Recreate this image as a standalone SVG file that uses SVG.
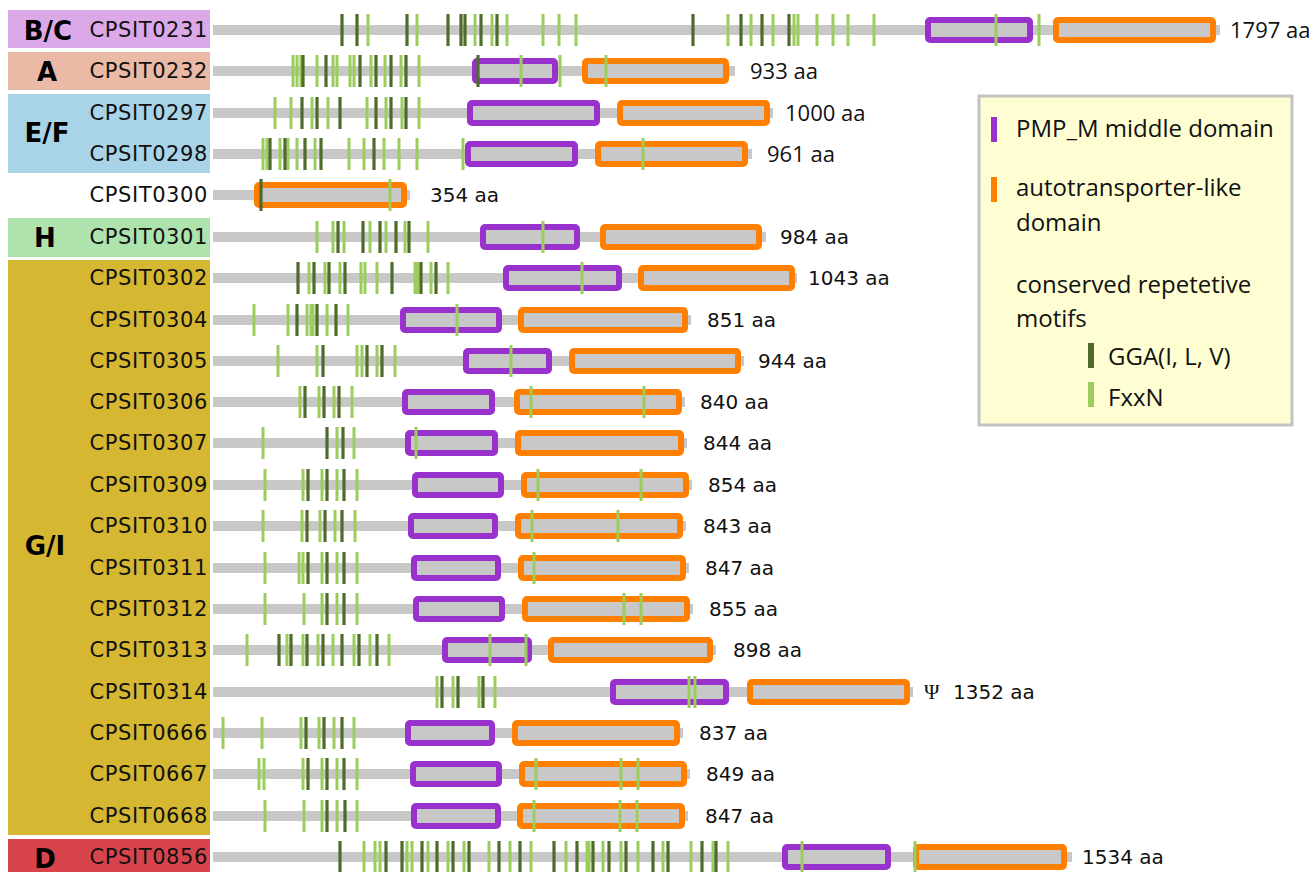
<svg xmlns="http://www.w3.org/2000/svg" width="1314" height="872" viewBox="0 0 1314 872">
<style>
.bb{fill:#c8c8c8}
.pm{fill:#c8c8c8;stroke:#9932cc;stroke-width:6}
.at{fill:#c8c8c8;stroke:#ff8000;stroke-width:6}
.l{stroke:#9acd5c;stroke-width:3;fill:none}
.d{stroke:#4e6b2c;stroke-width:3.2;fill:none}
.nm{font-family:"DejaVu Sans",sans-serif;font-size:21px;letter-spacing:0.6px;text-anchor:end;fill:#111}
.aa{font-family:"DejaVu Sans",sans-serif;font-size:20px;fill:#111}
.aa2{font-family:"Open Sans",sans-serif;font-size:22px;fill:#111}
.grp{font-family:"DejaVu Sans",sans-serif;font-weight:bold;font-size:26px;text-anchor:middle;fill:#000}
.lg{font-family:"Open Sans",sans-serif;font-size:24px;fill:#111}
</style>
<rect width="1314" height="872" fill="#fff"/>
<g id="groups">
<rect x="8" y="10" width="202" height="38" fill="#dca9e8"/>
<rect x="8" y="52" width="202" height="38" fill="#eabaa6"/>
<rect x="8" y="94" width="202" height="79" fill="#a9d4e8"/>
<rect x="8" y="218" width="202" height="39" fill="#aee3ae"/>
<rect x="8" y="260" width="202" height="575" fill="#d5b732"/>
<rect x="8" y="839" width="202" height="40" fill="#d8444c"/>
<text class="grp" x="48" y="40">B/C</text>
<text class="grp" x="47" y="81">A</text>
<text class="grp" x="47" y="142">E/F</text>
<text class="grp" x="45" y="247">H</text>
<text class="grp" x="45" y="555">G/I</text>
<text class="grp" x="45" y="868">D</text>
</g>
<g id="row-CPSIT0231">
<text class="nm" x="208" y="37">CPSIT0231</text>
<rect class="bb" x="213" y="25" width="1007" height="10"/>
<rect class="pm" x="928" y="20" width="102" height="20" rx="2"/>
<rect class="at" x="1056" y="20" width="157" height="20" rx="2"/>
<path class="l" d="M368 14v32M417 14v32M475 14v32M492 14v32M507 14v32M543 14v32M559 14v32M576 14v32M728 14v32M751 14v32M773 14v32M794 14v32M798 14v32M817 14v32M833 14v32M848 14v32M874 14v32M996 14v32M1039 14v32"/>
<path class="d" d="M342 14v32M357 14v32M407 14v32M448 14v32M461 14v32M465 14v32M481 14v32M497 14v32M693 14v32M741 14v32M762 14v32M789 14v32"/>
<text class="aa2" x="1230" y="38">1797 aa</text>
</g>
<g id="row-CPSIT0232">
<text class="nm" x="208" y="78">CPSIT0232</text>
<rect class="bb" x="213" y="66" width="522" height="10"/>
<rect class="pm" x="475" y="61" width="80" height="20" rx="2"/>
<rect class="at" x="585" y="61" width="141" height="20" rx="2"/>
<path class="l" d="M293 55v32M297 55v32M301 55v32M317 55v32M333 55v32M337 55v32M350 55v32M354 55v32M371 55v32M385 55v32M401 55v32M419 55v32M521 55v32M560 55v32M606 55v32"/>
<path class="d" d="M303 55v32M326 55v32M360 55v32M376 55v32M391 55v32M406 55v32M478 55v32"/>
<text class="aa2" x="750" y="79">933 aa</text>
</g>
<g id="row-CPSIT0297">
<text class="nm" x="208" y="120">CPSIT0297</text>
<rect class="bb" x="213" y="108" width="560" height="10"/>
<rect class="pm" x="470" y="103" width="127" height="20" rx="2"/>
<rect class="at" x="620" y="103" width="147" height="20" rx="2"/>
<path class="l" d="M275 97v32M291 97v32M312 97v32M328 97v32M367 97v32M386 97v32M402 97v32M419 97v32"/>
<path class="d" d="M302 97v32M317 97v32M340 97v32M376 97v32M391 97v32M406 97v32"/>
<text class="aa2" x="785" y="121">1000 aa</text>
</g>
<g id="row-CPSIT0298">
<text class="nm" x="208" y="161">CPSIT0298</text>
<rect class="bb" x="213" y="149" width="539" height="10"/>
<rect class="pm" x="468" y="144" width="107" height="20" rx="2"/>
<rect class="at" x="598" y="144" width="147" height="20" rx="2"/>
<path class="l" d="M263 138v32M267 138v32M280 138v32M288 138v32M297 138v32M315 138v32M349 138v32M364 138v32M384 138v32M399 138v32M417 138v32M463 138v32M643 138v32"/>
<path class="d" d="M270 138v32M285 138v32M305 138v32M321 138v32M374 138v32"/>
<text class="aa2" x="767" y="162">961 aa</text>
</g>
<g id="row-CPSIT0300">
<text class="nm" x="208" y="202">CPSIT0300</text>
<rect class="bb" x="213" y="190" width="197" height="10"/>
<rect class="at" x="257" y="185" width="147" height="20" rx="2"/>
<path class="l" d="M390 179v32"/>
<path class="d" d="M261 179v32"/>
<text class="aa" x="430" y="202">354 aa</text>
</g>
<g id="row-CPSIT0301">
<text class="nm" x="208" y="244">CPSIT0301</text>
<rect class="bb" x="213" y="232" width="553" height="10"/>
<rect class="pm" x="483" y="227" width="94" height="20" rx="2"/>
<rect class="at" x="603" y="227" width="156" height="20" rx="2"/>
<path class="l" d="M317 221v32M333 221v32M344 221v32M370 221v32M386 221v32M405 221v32M428 221v32M543 221v32"/>
<path class="d" d="M338 221v32M363 221v32M380 221v32M396 221v32M409 221v32"/>
<text class="aa" x="780" y="244">984 aa</text>
</g>
<g id="row-CPSIT0302">
<text class="nm" x="208" y="285">CPSIT0302</text>
<rect class="bb" x="213" y="273" width="584" height="10"/>
<rect class="pm" x="506" y="268" width="113" height="20" rx="2"/>
<rect class="at" x="641" y="268" width="151" height="20" rx="2"/>
<path class="l" d="M309 262v32M325 262v32M340 262v32M361 262v32M365 262v32M377 262v32M415 262v32M418 262v32M431 262v32M448 262v32M582 262v32"/>
<path class="d" d="M298 262v32M314 262v32M329 262v32M345 262v32M392 262v32M421 262v32M436 262v32"/>
<text class="aa" x="808" y="285">1043 aa</text>
</g>
<g id="row-CPSIT0304">
<text class="nm" x="208" y="327">CPSIT0304</text>
<rect class="bb" x="213" y="315" width="478" height="10"/>
<rect class="pm" x="403" y="310" width="96" height="20" rx="2"/>
<rect class="at" x="521" y="310" width="164" height="20" rx="2"/>
<path class="l" d="M254 304v32M288 304v32M307 304v32M311 304v32M313 304v32M327 304v32M348 304v32M457 304v32"/>
<path class="d" d="M297 304v32M317 304v32M336 304v32"/>
<text class="aa" x="707" y="327">851 aa</text>
</g>
<g id="row-CPSIT0305">
<text class="nm" x="208" y="368">CPSIT0305</text>
<rect class="bb" x="213" y="356" width="531" height="10"/>
<rect class="pm" x="466" y="351" width="83" height="20" rx="2"/>
<rect class="at" x="572" y="351" width="166" height="20" rx="2"/>
<path class="l" d="M278 345v32M317 345v32M357 345v32M362 345v32M377 345v32M395 345v32M511 345v32"/>
<path class="d" d="M323 345v32M367 345v32M382 345v32"/>
<text class="aa" x="758" y="368">944 aa</text>
</g>
<g id="row-CPSIT0306">
<text class="nm" x="208" y="409">CPSIT0306</text>
<rect class="bb" x="213" y="397" width="472" height="10"/>
<rect class="pm" x="405" y="392" width="87" height="20" rx="2"/>
<rect class="at" x="517" y="392" width="162" height="20" rx="2"/>
<path class="l" d="M300 386v32M319 386v32M334 386v32M352 386v32M531 386v32M644 386v32"/>
<path class="d" d="M305 386v32M324 386v32M339 386v32"/>
<text class="aa" x="700" y="409">840 aa</text>
</g>
<g id="row-CPSIT0307">
<text class="nm" x="208" y="450">CPSIT0307</text>
<rect class="bb" x="213" y="438" width="474" height="10"/>
<rect class="pm" x="408" y="433" width="87" height="20" rx="2"/>
<rect class="at" x="518" y="433" width="163" height="20" rx="2"/>
<path class="l" d="M263 427v32M337 427v32M354 427v32M416 427v32"/>
<path class="d" d="M327 427v32M343 427v32"/>
<text class="aa" x="703" y="450">844 aa</text>
</g>
<g id="row-CPSIT0309">
<text class="nm" x="208" y="492">CPSIT0309</text>
<rect class="bb" x="213" y="480" width="479" height="10"/>
<rect class="pm" x="415" y="475" width="86" height="20" rx="2"/>
<rect class="at" x="524" y="475" width="162" height="20" rx="2"/>
<path class="l" d="M265 469v32M303 469v32M322 469v32M337 469v32M357 469v32M538 469v32M641 469v32"/>
<path class="d" d="M308 469v32M327 469v32M344 469v32"/>
<text class="aa" x="708" y="492">854 aa</text>
</g>
<g id="row-CPSIT0310">
<text class="nm" x="208" y="533">CPSIT0310</text>
<rect class="bb" x="213" y="521" width="473" height="10"/>
<rect class="pm" x="411" y="516" width="84" height="20" rx="2"/>
<rect class="at" x="518" y="516" width="162" height="20" rx="2"/>
<path class="l" d="M263 510v32M302 510v32M320 510v32M335 510v32M355 510v32M532 510v32M618 510v32"/>
<path class="d" d="M307 510v32M325 510v32M342 510v32"/>
<text class="aa" x="703" y="533">843 aa</text>
</g>
<g id="row-CPSIT0311">
<text class="nm" x="208" y="575">CPSIT0311</text>
<rect class="bb" x="213" y="563" width="476" height="10"/>
<rect class="pm" x="414" y="558" width="84" height="20" rx="2"/>
<rect class="at" x="521" y="558" width="162" height="20" rx="2"/>
<path class="l" d="M265 552v32M299 552v32M303 552v32M322 552v32M337 552v32M357 552v32M534 552v32"/>
<path class="d" d="M308 552v32M327 552v32M344 552v32"/>
<text class="aa" x="705" y="575">847 aa</text>
</g>
<g id="row-CPSIT0312">
<text class="nm" x="208" y="616">CPSIT0312</text>
<rect class="bb" x="213" y="604" width="480" height="10"/>
<rect class="pm" x="416" y="599" width="86" height="20" rx="2"/>
<rect class="at" x="525" y="599" width="162" height="20" rx="2"/>
<path class="l" d="M265 593v32M304 593v32M322 593v32M337 593v32M357 593v32M624 593v32M641 593v32"/>
<path class="d" d="M327 593v32M344 593v32"/>
<text class="aa" x="709" y="616">855 aa</text>
</g>
<g id="row-CPSIT0313">
<text class="nm" x="208" y="657">CPSIT0313</text>
<rect class="bb" x="213" y="645" width="503" height="10"/>
<rect class="pm" x="445" y="640" width="84" height="20" rx="2"/>
<rect class="at" x="551" y="640" width="159" height="20" rx="2"/>
<path class="l" d="M247 634v32M287 634v32M303 634v32M318 634v32M333 634v32M354 634v32M370 634v32M389 634v32M490 634v32M526 634v32"/>
<path class="d" d="M279 634v32M291 634v32M307 634v32M323 634v32M342 634v32M359 634v32M377 634v32"/>
<text class="aa" x="733" y="657">898 aa</text>
</g>
<g id="row-CPSIT0314">
<text class="nm" x="208" y="699">CPSIT0314</text>
<rect class="bb" x="213" y="687" width="700" height="10"/>
<rect class="pm" x="613" y="682" width="113" height="20" rx="2"/>
<rect class="at" x="750" y="682" width="157" height="20" rx="2"/>
<path class="l" d="M437 676v32M453 676v32M479 676v32M495 676v32M689 676v32M695 676v32"/>
<path class="d" d="M442 676v32M458 676v32M483 676v32"/>
<text x="924" y="699" style="font-family:'Liberation Serif',serif;font-size:21px;fill:#111">Ψ</text>
<text class="aa" x="953" y="699">1352 aa</text>
</g>
<g id="row-CPSIT0666">
<text class="nm" x="208" y="740">CPSIT0666</text>
<rect class="bb" x="213" y="728" width="470" height="10"/>
<rect class="pm" x="408" y="723" width="84" height="20" rx="2"/>
<rect class="at" x="515" y="723" width="162" height="20" rx="2"/>
<path class="l" d="M223 717v32M262 717v32M301 717v32M319 717v32M334 717v32M354 717v32"/>
<path class="d" d="M306 717v32M324 717v32M342 717v32"/>
<text class="aa" x="699" y="740">837 aa</text>
</g>
<g id="row-CPSIT0667">
<text class="nm" x="208" y="781">CPSIT0667</text>
<rect class="bb" x="213" y="769" width="477" height="10"/>
<rect class="pm" x="413" y="764" width="86" height="20" rx="2"/>
<rect class="at" x="522" y="764" width="162" height="20" rx="2"/>
<path class="l" d="M259 758v32M264 758v32M303 758v32M322 758v32M337 758v32M357 758v32M536 758v32M621 758v32M638 758v32"/>
<path class="d" d="M308 758v32M327 758v32M344 758v32"/>
<text class="aa" x="706" y="781">849 aa</text>
</g>
<g id="row-CPSIT0668">
<text class="nm" x="208" y="823">CPSIT0668</text>
<rect class="bb" x="213" y="811" width="475" height="10"/>
<rect class="pm" x="414" y="806" width="84" height="20" rx="2"/>
<rect class="at" x="520" y="806" width="162" height="20" rx="2"/>
<path class="l" d="M265 800v32M304 800v32M322 800v32M337 800v32M357 800v32M534 800v32M620 800v32M637 800v32"/>
<path class="d" d="M327 800v32M345 800v32"/>
<text class="aa" x="705" y="823">847 aa</text>
</g>
<g id="row-CPSIT0856">
<text class="nm" x="208" y="864">CPSIT0856</text>
<rect class="bb" x="213" y="852" width="859" height="10"/>
<rect class="pm" x="785" y="847" width="103" height="20" rx="2"/>
<rect class="at" x="916" y="847" width="148" height="20" rx="2"/>
<path class="l" d="M364 841v32M375 841v32M380 841v32M407 841v32M412 841v32M428 841v32M448 841v32M464 841v32M489 841v32M510 841v32M531 841v32M566 841v32M587 841v32M589 841v32M603 841v32M621 841v32M638 841v32M663 841v32M691 841v32M713 841v32M728 841v32M802 841v32M915 841v32"/>
<path class="d" d="M340 841v32M386 841v32M402 841v32M422 841v32M437 841v32M453 841v32M469 841v32M499 841v32M520 841v32M554 841v32M577 841v32M593 841v32M609 841v32M626 841v32M653 841v32M668 841v32M702 841v32M716 841v32"/>
<text class="aa" x="1082" y="864">1534 aa</text>
</g>
<g id="legend">
<rect x="979" y="96" width="313" height="329" fill="#fefed2" stroke="#c3c3c3" stroke-width="3"/>
<rect x="991" y="117" width="6" height="25" fill="#9932cc"/>
<text class="lg" x="1016" y="137">PMP_M middle domain</text>
<rect x="991" y="177" width="6" height="25" fill="#ff8000"/>
<text class="lg" x="1016" y="196">autotransporter-like</text>
<text class="lg" x="1016" y="231">domain</text>
<text class="lg" x="1016" y="293">conserved repetetive</text>
<text class="lg" x="1016" y="327">motifs</text>
<rect x="1088" y="343" width="6" height="25" fill="#4e6b2c"/>
<text class="lg" x="1108" y="365">GGA(I, L, V)</text>
<rect x="1088" y="382" width="6" height="25" fill="#9acd5c"/>
<text class="lg" x="1108" y="406">FxxN</text>
</g>
<g id="connectors"/>
</svg>
